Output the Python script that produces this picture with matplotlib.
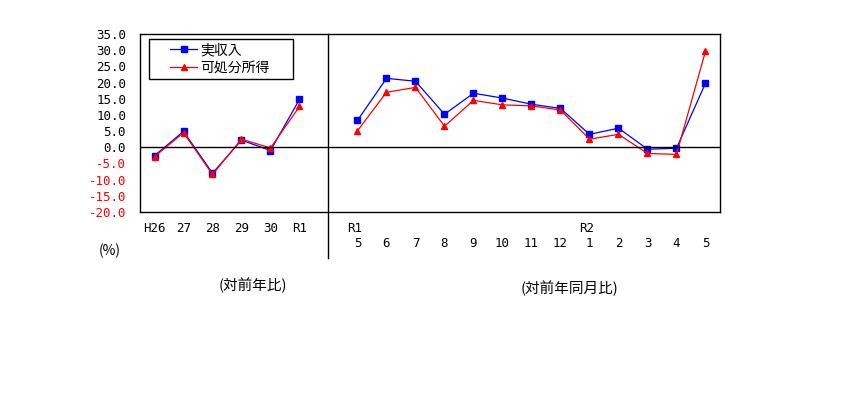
import numpy as np
import matplotlib
matplotlib.use("Agg")
import matplotlib.pyplot as plt
import matplotlib.transforms as mtransforms
from matplotlib.patches import Rectangle

plt.rcParams['font.family'] = ['Noto Sans CJK JP', 'DejaVu Sans']
MONO = ['DejaVu Sans Mono']

# Annual (対前年比)
year_labels = ['H26', '27', '28', '29', '30', 'R1']
income_year = [-2.6, 4.9, -8.0, 2.2, -1.0, 14.8]
disp_year = [-2.9, 4.5, -8.4, 2.5, -0.2, 12.6]

# Monthly (対前年同月比)
month_labels = ['5', '6', '7', '8', '9', '10', '11', '12', '1', '2', '3', '4', '5']
month_era = {0: 'R1', 8: 'R2'}
income_month = [8.3, 21.3, 20.4, 10.2, 16.7, 15.2, 13.3, 12.0, 4.0, 5.9, -0.6, -0.3, 19.8]
disp_month = [5.1, 17.0, 18.5, 6.5, 14.5, 13.1, 12.8, 11.5, 2.5, 4.0, -1.9, -2.2, 29.7]

yticks = np.arange(-20, 36, 5)

W, H = 845, 394
fig = plt.figure(figsize=(W / 100, H / 100), dpi=100)
ax = fig.add_axes([140 / W, 1 - 212 / H, 580 / W, 178 / H])

x_year = np.arange(len(year_labels))
gap = len(year_labels)  # empty slot where the divider sits
x_month = np.arange(len(month_labels)) + gap + 1

blue = '#0000FF'
red = '#FF0000'
ax.plot(x_year, income_year, color=blue, lw=0.9, marker='s', ms=4.5, label='実収入')
ax.plot(x_year, disp_year, color=red, lw=0.9, marker='^', ms=4.5, label='可処分所得')
ax.plot(x_month, income_month, color=blue, lw=0.9, marker='s', ms=4.5)
ax.plot(x_month, disp_month, color=red, lw=0.9, marker='^', ms=4.5)

ax.set_xlim(-0.5, x_month[-1] + 0.5)
ax.set_ylim(-20, 35)
ax.axhline(0, color='black', lw=1)
# divider between annual and monthly parts, running below the axes
ax.plot([gap, gap], [35, -34.2], color='black', lw=1, clip_on=False)

ax.set_yticks(yticks)
ax.set_yticklabels(['%.1f' % v for v in yticks], fontsize=9, family=MONO)
for lab, v in zip(ax.get_yticklabels(), yticks):
    lab.set_color('red' if v < 0 else 'black')
ax.tick_params(axis='y', length=0, pad=10)
ax.set_xticks([])
for s in ax.spines.values():
    s.set_linewidth(1)

trans = mtransforms.blended_transform_factory(ax.transData, ax.transAxes)
for x, t in zip(x_year, year_labels):
    ax.text(x, -0.09, t, transform=trans, ha='center', va='center', fontsize=9, family=MONO)
for i, (x, t) in enumerate(zip(x_month, month_labels)):
    ax.text(x, -0.175, t, transform=trans, ha='center', va='center', fontsize=9, family=MONO)
    if i in month_era:
        ax.text(x - 0.1, -0.09, month_era[i], transform=trans, ha='center', va='center',
                fontsize=9, family=MONO)

fig.text(110 / W, 1 - 251 / H, '(%)', ha='center', va='center', fontsize=10)
fig.text(253 / W, 1 - 285 / H, '(対前年比)', ha='center', va='center', fontsize=10.5)
fig.text(570 / W, 1 - 288 / H, '(対前年同月比)', ha='center', va='center', fontsize=10.5)

# legend box drawn separately to get the wide frame of the original
fig.patches.append(Rectangle((149 / W, 1 - 79 / H), 144 / W, 40 / H, transform=fig.transFigure,
                             fill=False, edgecolor='black', lw=1))
leg = ax.legend(loc='upper left', bbox_to_anchor=(170 / W, 1 - 43 / H),
                bbox_transform=fig.transFigure, fontsize=10, frameon=False,
                handlelength=1.95, handletextpad=0.2, borderpad=0, labelspacing=0.25,
                borderaxespad=0)

fig.savefig('out.png', dpi=100)
